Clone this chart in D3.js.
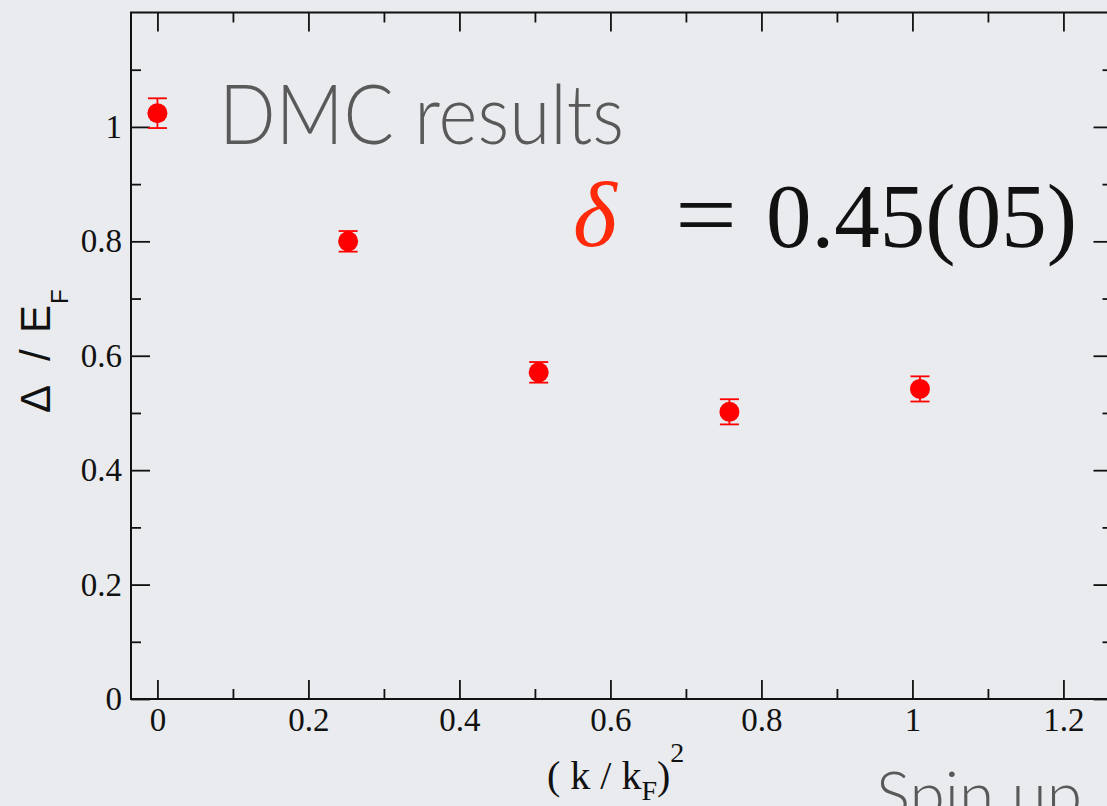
<!DOCTYPE html>
<html>
<head>
<meta charset="utf-8">
<script src="https://cdn.jsdelivr.net/npm/d3@7"></script>
<style>
  html, body { margin: 0; padding: 0; background: #e9ebee; overflow: hidden; }
  svg { display: block; }
</style>
</head>
<body>
<svg id="chart" width="1107" height="806"></svg>
<script>
// Gap parameter from DMC: Δ/E_F versus (k/k_F)^2
const kSquared   = [0, 0.2526, 0.505, 0.7576, 1.010];
const gapRatio   = [1.024, 0.800, 0.571, 0.502, 0.542];
const gapError   = [0.026, 0.018, 0.018, 0.022, 0.022];

const xMajorTicks = [0, 0.2, 0.4, 0.6, 0.8, 1, 1.2];
const xMinorTicks = [0.1, 0.3, 0.5, 0.7, 0.9, 1.1];
const yMajorTicks = [0, 0.2, 0.4, 0.6, 0.8, 1];
const yMinorTicks = [0.1, 0.3, 0.5, 0.7, 0.9, 1.1];
const xTickLabels = ["0", "0.2", "0.4", "0.6", "0.8", "1", "1.2"];
const yTickLabels = ["0", "0.2", "0.4", "0.6", "0.8", "1"];

const xRange = [-0.035, 1.265];
const yRange = [0, 1.2];

const svg = d3.select("#chart");
const plotLeft = 131, plotRight = 1112.5, plotTop = 12.5, plotBottom = 699;

const x = d3.scaleLinear().domain(xRange).range([plotLeft, plotRight]);
const y = d3.scaleLinear().domain(yRange).range([plotBottom, plotTop]);

const serif = "'Liberation Serif', 'Times New Roman', serif";
const sans = "'Liberation Sans', Arial, sans-serif";
const light = "Lato, 'Open Sans', sans-serif";

// background
svg.append("rect").attr("width", 1107).attr("height", 806).attr("fill", "#e9ebee");

function styleAxis(g, withText) {
  g.select(".domain").remove();
  g.selectAll(".tick line").attr("stroke", "#111").attr("stroke-width", 1.8);
  if (withText) {
    g.selectAll(".tick text")
      .attr("fill", "#111")
      .style("font-family", serif)
      .style("font-size", "33px");
  }
}

// bottom axis: major + minor ticks pointing inward
svg.append("g").attr("transform", `translate(0,${plotBottom})`)
  .call(d3.axisBottom(x).tickValues(xMajorTicks).tickSize(-19).tickPadding(9)
    .tickFormat((d, i) => xTickLabels[i]))
  .call(g => styleAxis(g, true));
svg.append("g").attr("transform", `translate(0,${plotBottom})`)
  .call(d3.axisBottom(x).tickValues(xMinorTicks).tickSize(-10).tickFormat(""))
  .call(g => styleAxis(g, false));

// top axis
svg.append("g").attr("transform", `translate(0,${plotTop})`)
  .call(d3.axisTop(x).tickValues(xMajorTicks).tickSize(-19).tickFormat(""))
  .call(g => styleAxis(g, false));
svg.append("g").attr("transform", `translate(0,${plotTop})`)
  .call(d3.axisTop(x).tickValues(xMinorTicks).tickSize(-10).tickFormat(""))
  .call(g => styleAxis(g, false));

// left axis
svg.append("g").attr("transform", `translate(${plotLeft},0)`)
  .call(d3.axisLeft(y).tickValues(yMajorTicks).tickSize(-19).tickPadding(9)
    .tickFormat((d, i) => yTickLabels[i]))
  .call(g => styleAxis(g, true));
svg.append("g").attr("transform", `translate(${plotLeft},0)`)
  .call(d3.axisLeft(y).tickValues(yMinorTicks).tickSize(-10).tickFormat(""))
  .call(g => styleAxis(g, false));

// right axis
svg.append("g").attr("transform", `translate(${plotRight},0)`)
  .call(d3.axisRight(y).tickValues(yMajorTicks).tickSize(-19).tickFormat(""))
  .call(g => styleAxis(g, false));
svg.append("g").attr("transform", `translate(${plotRight},0)`)
  .call(d3.axisRight(y).tickValues(yMinorTicks).tickSize(-10).tickFormat(""))
  .call(g => styleAxis(g, false));

// frame
svg.append("rect")
  .attr("x", plotLeft).attr("y", plotTop)
  .attr("width", plotRight - plotLeft).attr("height", plotBottom - plotTop)
  .attr("fill", "none").attr("stroke", "#111").attr("stroke-width", 2);

// data with error bars
const pts = kSquared.map((k, i) => ({ k, v: gapRatio[i], e: gapError[i] }));
const red = "#ff0000";
const marks = svg.append("g");
const pg = marks.selectAll("g").data(pts).join("g");
pg.append("line")
  .attr("x1", d => x(d.k)).attr("x2", d => x(d.k))
  .attr("y1", d => y(d.v - d.e)).attr("y2", d => y(d.v + d.e))
  .attr("stroke", red).attr("stroke-width", 1.8);
pg.selectAll("line.cap").data(d => [d.v - d.e, d.v + d.e].map(v => ({ k: d.k, v })))
  .join("line").attr("class", "cap")
  .attr("x1", d => x(d.k) - 9.5).attr("x2", d => x(d.k) + 9.5)
  .attr("y1", d => y(d.v)).attr("y2", d => y(d.v))
  .attr("stroke", red).attr("stroke-width", 1.8);
pg.append("circle")
  .attr("cx", d => x(d.k)).attr("cy", d => y(d.v)).attr("r", 10)
  .attr("fill", red);

// legend text
svg.append("text")
  .attr("x", 219).attr("y", 144)
  .attr("textLength", 405).attr("lengthAdjust", "spacingAndGlyphs")
  .style("font-family", light).style("font-weight", 300).style("font-size", "82px")
  .attr("fill", "#595959")
  .text("DMC results");

// fitted exponent
svg.append("text")
  .attr("x", 573).attr("y", 246)
  .style("font-family", serif).style("font-style", "italic").style("font-size", "94px")
  .attr("fill", "#ff2a0a")
  .text("δ");
svg.append("text")
  .attr("x", 675).attr("y", 247)
  .attr("textLength", 62).attr("lengthAdjust", "spacingAndGlyphs")
  .style("font-family", serif).style("font-size", "96px")
  .attr("fill", "#111")
  .text("=");
svg.append("text")
  .attr("x", 766).attr("y", 247)
  .attr("textLength", 311).attr("lengthAdjust", "spacingAndGlyphs")
  .style("font-family", serif).style("font-size", "92px")
  .attr("fill", "#111")
  .text("0.45(05)");

// x axis title
const xt = svg.append("text")
  .attr("x", 547).attr("y", 789)
  .style("font-family", serif).style("font-size", "40px")
  .attr("fill", "#111");
xt.append("tspan").text("( k / k");
xt.append("tspan").attr("dy", 11).style("font-size", "28px").text("F");
xt.append("tspan").attr("dy", -11).text(")");
xt.append("tspan").attr("dy", -27).style("font-size", "28px").text("2");

// y axis title
const yt = svg.append("text")
  .attr("transform", "translate(50,0) rotate(-90)")
  .style("font-family", sans).style("font-size", "42px")
  .attr("fill", "#111");
yt.append("tspan").attr("x", -413).attr("y", 0).text("Δ");
yt.append("tspan").attr("x", -361).attr("y", 0).text("/");
yt.append("tspan").attr("x", -333).attr("y", 0).text("E");
yt.append("tspan").attr("x", -304).attr("y", 18).style("font-size", "24px").text("F");

// caption
svg.append("text")
  .attr("x", 876).attr("y", 817)
  .style("font-family", light).style("font-weight", 300).style("font-size", "64px")
  .attr("fill", "#595959")
  .text("Spin up");
</script>
</body>
</html>
